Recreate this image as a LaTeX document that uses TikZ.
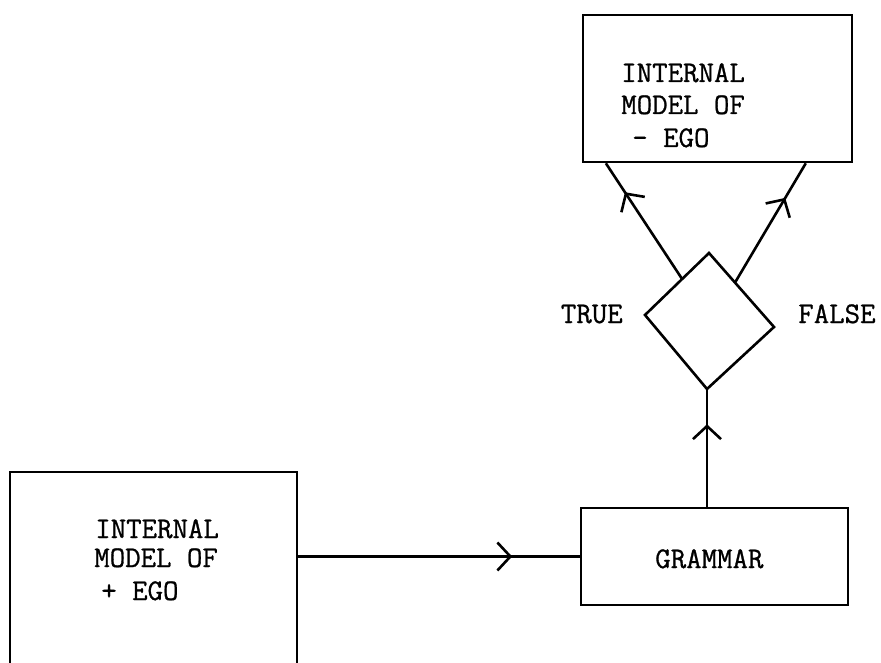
\documentclass[tikz,border=0pt]{standalone}
\usepackage{fontspec}
\newfontfamily\twfont{Latin Modern Mono}[FakeBold=0.9]
\usetikzlibrary{arrows.meta,decorations.markings,calc}
\begin{document}
\begin{tikzpicture}[x=1pt,y=-1pt,
  line width=2.6pt,
  boxnode/.style={draw,line width=2.6pt,inner sep=0pt,rectangle},
  lbl/.style={inner sep=0pt,font=\fontsize{30}{32}\selectfont\twfont},
  midarrow/.style={postaction={decorate,decoration={markings,
     mark=at position #1 with {\arrow[line width=2.6pt]{Straight Barb[length=13pt,width=28pt]}}}}}]
\clip (0,0) rectangle (881,663);
\fill[white] (0,0) rectangle (881,663);
% boxes
\node[boxnode,minimum width=269pt,minimum height=147pt] (topbox) at (717.5,88.5) {};
\node[boxnode,minimum width=287pt,minimum height=240pt] (leftbox) at (153.5,592) {};
\node[boxnode,minimum width=267pt,minimum height=97pt] (grammar) at (714.5,556.5) {};
% diamond
\coordinate (dt) at (709,253);
\coordinate (dl) at (645,315);
\coordinate (dr) at (774,327);
\coordinate (db) at (707,389);
\draw[line join=miter] (dt) -- (dr) -- (db) -- (dl) -- cycle;
% texts
\node[lbl,anchor=base west] (t1) at (620,82) {INTERNAL};
\node[lbl,anchor=base west] (t2) at (620,114) {MODEL OF};
\node[lbl,anchor=base west] (t3) at (631,147) {- EGO};
\node[lbl,anchor=base west] (l1) at (94,538) {INTERNAL};
\node[lbl,anchor=base west] (l2) at (93,567) {MODEL OF};
\node[lbl,anchor=base west] (l3) at (100,600) {+ EGO};
\node[lbl,anchor=base west] (g1) at (654,568) {GRAMMAR};
\node[lbl,anchor=base east] (tt) at (624,323) {TRUE};
\node[lbl,anchor=base west] (ff) at (797,323) {FALSE};
% connectors
\coordinate (tl) at ($(topbox.south west)!0.089!(topbox.south east)$);
\coordinate (tr) at ($(topbox.south west)!0.825!(topbox.south east)$);
\draw[midarrow=0.75] ($(dl)!0.58!(dt)$) -- (tl);
\draw[midarrow=0.71] ($(dt)!0.40!(dr)$) -- (tr);
\draw[midarrow=0.70] (db |- grammar.north) -- (db);
\draw[midarrow=0.76] (leftbox.east |- grammar.west) -- (grammar.west);
\end{tikzpicture}
\end{document}
